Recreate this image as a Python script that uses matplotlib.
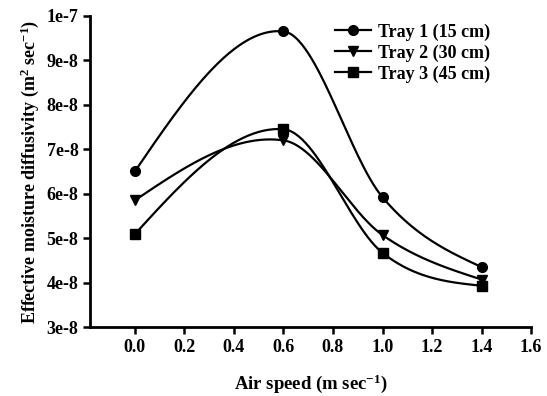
import numpy as np
import matplotlib
matplotlib.use("Agg")
import matplotlib.pyplot as plt

# air speed (m/sec)
air_speed = [0.0, 0.6, 1.0, 1.4]

# effective moisture diffusivity (m2/sec)
tray1 = [6.5e-8, 9.65e-8, 5.92e-8, 4.35e-8]
tray2 = [5.85e-8, 7.2e-8, 5.07e-8, 4.07e-8]
tray3 = [5.09e-8, 7.45e-8, 4.67e-8, 3.93e-8]

labels = ["Tray 1 (15 cm)", "Tray 2 (30 cm)", "Tray 3 (45 cm)"]
markers = ["o", "v", "s"]

x_ticks = [0.0, 0.2, 0.4, 0.6, 0.8, 1.0, 1.2, 1.4, 1.6]
y_ticks = [3e-8, 4e-8, 5e-8, 6e-8, 7e-8, 8e-8, 9e-8, 1e-7]
y_tick_labels = ["3e-8", "4e-8", "5e-8", "6e-8", "7e-8", "8e-8", "9e-8", "1e-7"]


def smooth_curve(x, y, n=200):
    """Catmull-Rom style cubic through the points, free (zero curvature) ends."""
    x = np.asarray(x, float)
    y = np.asarray(y, float)
    k = len(x)
    h = np.diff(x)
    m = np.zeros(k)
    for i in range(1, k - 1):
        m[i] = (y[i + 1] - y[i - 1]) / (x[i + 1] - x[i - 1])
    m[0] = (3 * (y[1] - y[0]) / h[0] - m[1]) / 2
    m[-1] = (3 * (y[-1] - y[-2]) / h[-1] - m[-2]) / 2
    xs = np.linspace(x[0], x[-1], n)
    ys = np.empty_like(xs)
    for j, xv in enumerate(xs):
        i = min(np.searchsorted(x, xv, side="right") - 1, k - 2)
        t = (xv - x[i]) / h[i]
        h00 = 2 * t ** 3 - 3 * t ** 2 + 1
        h10 = t ** 3 - 2 * t ** 2 + t
        h01 = -2 * t ** 3 + 3 * t ** 2
        h11 = t ** 3 - t ** 2
        ys[j] = h00 * y[i] + h10 * h[i] * m[i] + h01 * y[i + 1] + h11 * h[i] * m[i + 1]
    return xs, ys


plt.rcParams["font.family"] = ["Liberation Serif", "DejaVu Serif"]
plt.rcParams["font.weight"] = "bold"
plt.rcParams["mathtext.fontset"] = "custom"
plt.rcParams["mathtext.rm"] = "Liberation Serif:bold"
plt.rcParams["mathtext.it"] = "Liberation Serif:bold"
plt.rcParams["mathtext.bf"] = "Liberation Serif:bold"

fig = plt.figure(figsize=(5.47, 3.96), dpi=100)
ax = fig.add_axes([0.165, 0.174, 0.806, 0.786])

for data, mk, lab in zip([tray1, tray2, tray3], markers, labels):
    xs, ys = smooth_curve(air_speed, data)
    ax.plot(xs, ys, color="black", lw=1.6)
    ax.plot(air_speed, data, linestyle="none", marker=mk, color="black",
            markersize=7)
    ax.plot([], [], color="black", lw=1.6, marker=mk, markersize=7, label=lab)

ax.set_xlim(-0.18, 1.6)
ax.set_ylim(3e-8, 1e-7)
ax.set_xticks(x_ticks)
ax.set_xticklabels(["%.1f" % v for v in x_ticks])
ax.set_yticks(y_ticks)
ax.set_yticklabels(y_tick_labels)
ax.tick_params(direction="out", length=5, width=1.8, labelsize=13)
for side in ["top", "right"]:
    ax.spines[side].set_visible(False)
for side in ["left", "bottom"]:
    ax.spines[side].set_linewidth(2)

ax.set_xlabel(r"Air speed (m sec$^{-1}$)", fontsize=13.5, fontweight="bold", labelpad=12)
ax.set_ylabel(r"Effective moisture diffusivity (m$^{2}$ sec$^{-1}$)", fontsize=13,
              fontweight="bold", labelpad=4)

ax.legend(loc="upper left", bbox_to_anchor=(0.53, 1.01), frameon=False,
          fontsize=13, handlelength=2.0, handletextpad=0.4, labelspacing=0.2,
          borderaxespad=0.2)

fig.savefig("out.png", dpi=100)
